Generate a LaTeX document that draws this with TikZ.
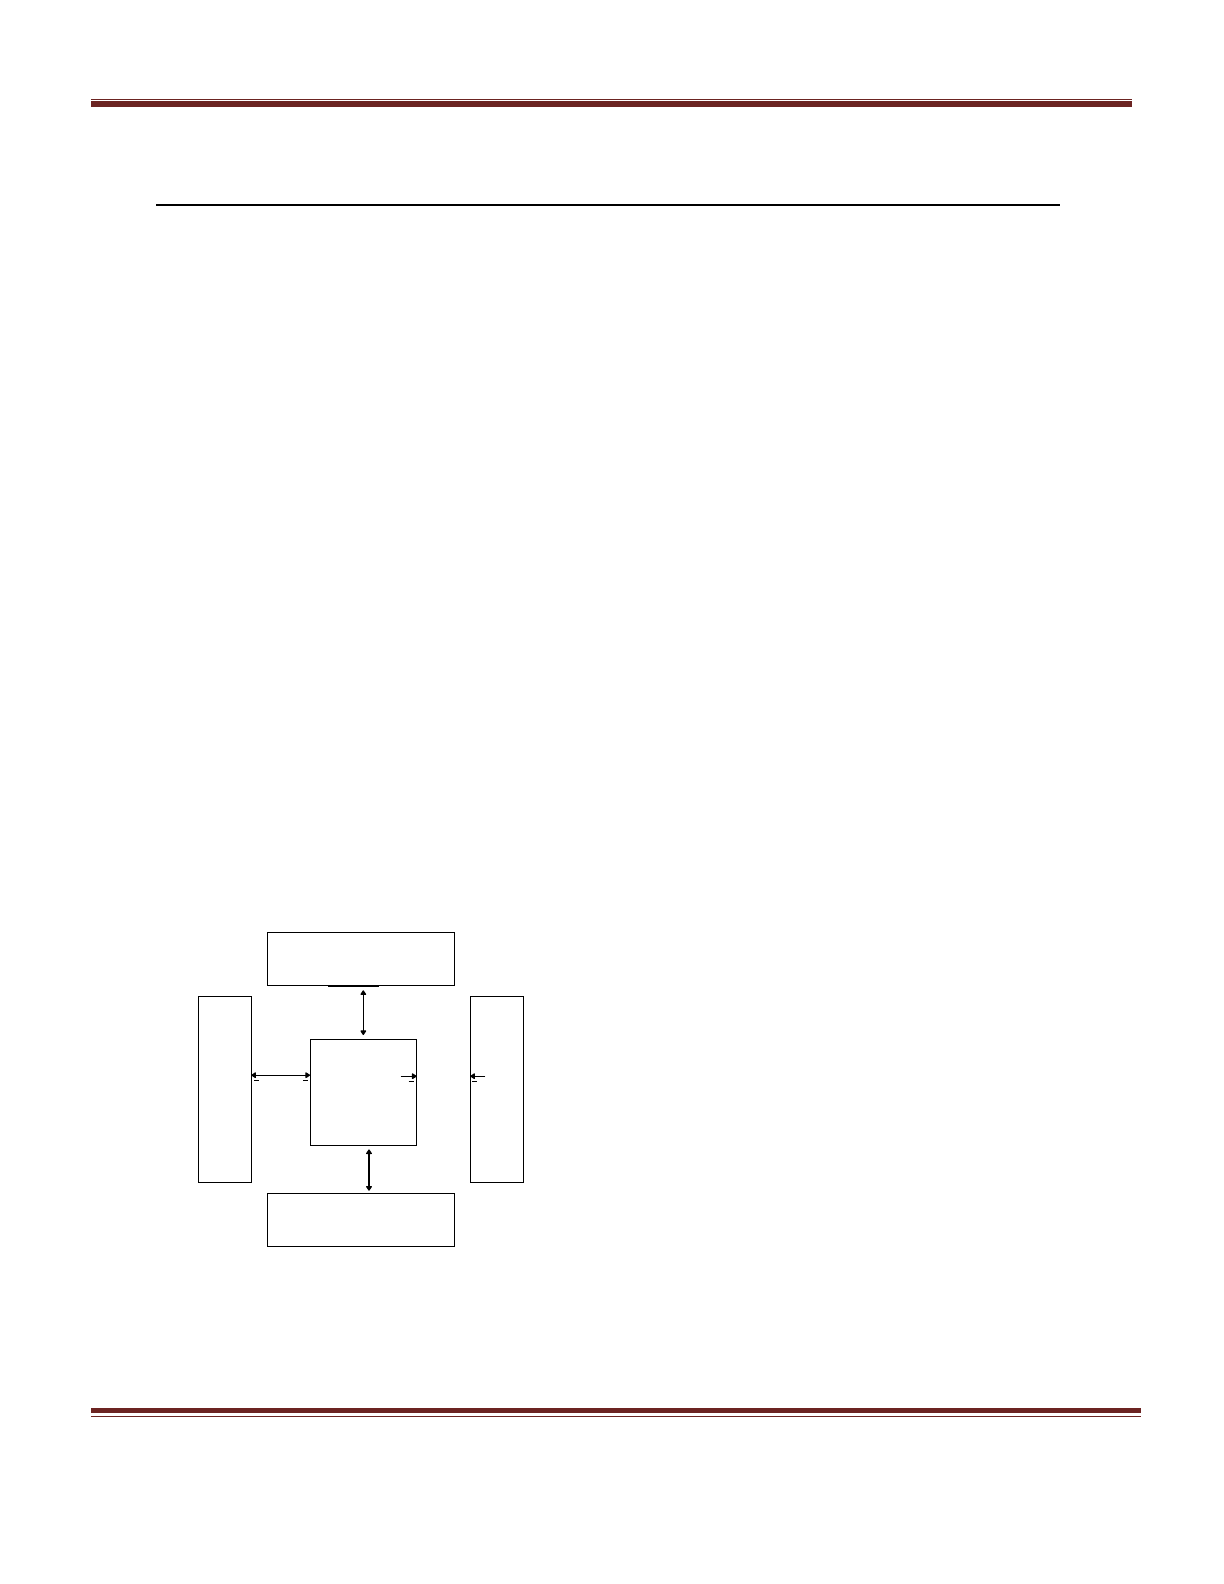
\documentclass[tikz,border=0pt]{standalone}
\usetikzlibrary{arrows.meta}
\definecolor{maroon}{RGB}{108,36,34}
\begin{document}
\begin{tikzpicture}[x=0.5pt,y=-0.5pt,line width=0.6pt,
  blk/.style={draw,line width=0.5pt,inner sep=0pt,outer sep=0pt},
  tip/.style={-{Triangle[length=2.6pt,width=3.2pt,round]}},
  biarrow/.style={{Triangle[length=2.6pt,width=3.2pt,round]}-{Triangle[length=2.6pt,width=3.2pt,round]}},
  tick/.style={line width=0.45pt}]
  \useasboundingbox (0,0) rectangle (1224,1584);
  \draw[maroon,line width=0.5pt] (91,99.5) -- (1132,99.5);
  \fill[maroon] (91,101.5) rectangle (1132,107.3);
  \draw[line width=1pt] (156,205) -- (1060,205);
  \fill[maroon] (91,1408) rectangle (1141,1413.3);
  \draw[maroon,line width=0.5pt] (91,1416) -- (1141,1416);
  \node[blk,minimum width=93.5pt,minimum height=26.5pt] (top) at (360.8,958.8) {};
  \node[blk,minimum width=93.5pt,minimum height=26.7pt] (bottom) at (360.8,1220) {};
  \node[blk,minimum width=26.5pt,minimum height=93pt] (left) at (224.8,1089.3) {};
  \node[blk,minimum width=26.7pt,minimum height=93pt] (right) at (497,1089.3) {};
  \node[blk,minimum width=53.3pt,minimum height=53.2pt] (center) at (363.3,1092.2) {};
  \draw[line width=1pt] ([shift={(-32.5,0.7)}]top.south) -- ([shift={(18.2,0.7)}]top.south);
  \draw[biarrow,shorten <=2.5pt,shorten >=2pt] (top.south -| center.north) -- (center.north);
  \coordinate (bs) at ([shift={(5.7,0)}]center.south);
  \draw[biarrow,shorten <=2pt,shorten >=1.3pt] (bs) -- (bs |- bottom.north);
  \coordinate (la) at ([shift={(0,-17)}]center.west);
  \coordinate (lb) at (la -| left.east);
  \draw[biarrow] (la) -- (lb);
  \coordinate (ra) at ([shift={(0,-16)}]center.east);
  \coordinate (rb) at (ra -| right.west);
  \draw[tip] ([shift={(-16,0)}]ra) -- (ra);
  \draw[tip] ([shift={(15,0)}]rb) -- (rb);
  \foreach \c/\d in {lb/3,la/-7,ra/-8,rb/2}
    \draw[tick] ([shift={(\d,5)}]\c) -- +(5,0);
\end{tikzpicture}
\end{document}
